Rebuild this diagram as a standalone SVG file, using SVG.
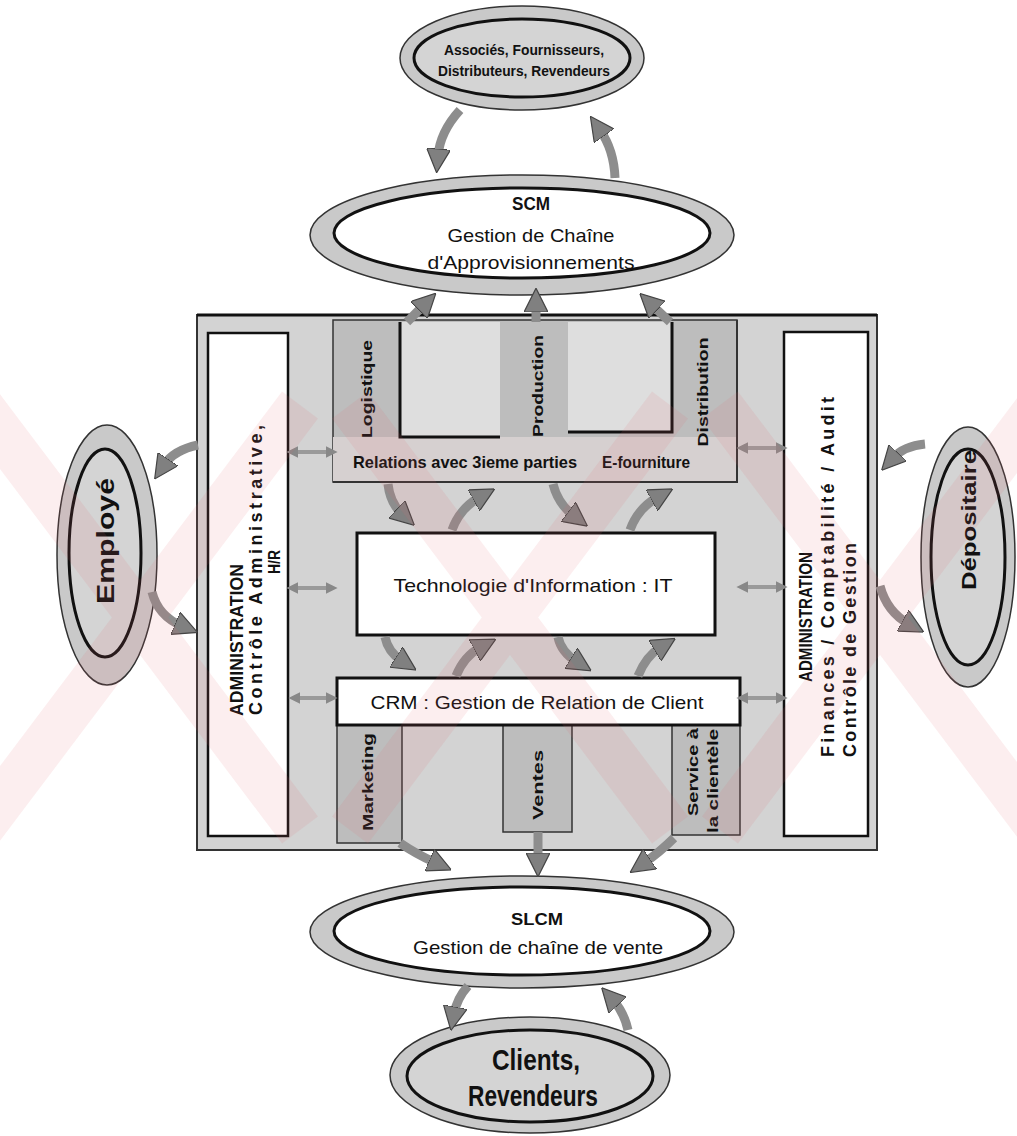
<svg xmlns="http://www.w3.org/2000/svg" width="1017" height="1136" viewBox="0 0 1017 1136">
  <defs>
    <style>
      text { font-family: "Liberation Sans", Arial, sans-serif; fill: #111; }
      .ring { fill: #c9c9c9; stroke: #333; stroke-width: 1.5; }
      .core { fill: #d4d4d4; stroke: #111; stroke-width: 3; }
      .coreW { fill: #ffffff; stroke: #111; stroke-width: 3; }
      .frame { fill: #d3d3d3; stroke: #333; stroke-width: 2; }
      .panel { fill: #ffffff; stroke: #111; stroke-width: 2.5; }
      .col { fill: #bdbdbd; stroke: #333; stroke-width: 1.5; }
      .light { fill: #dedede; }
      .box { fill: #ffffff; stroke: #111; stroke-width: 3; }
      .edge { stroke: #111; stroke-width: 3; fill: none; }
      .shaft { fill: none; stroke: #8d8d8d; stroke-width: 9; stroke-linecap: butt; marker-end: url(#head); }
      .dbl { fill: none; stroke: #9a9a9a; stroke-width: 4; marker-start: url(#tipS); marker-end: url(#tipE); }
      .b { font-weight: bold; }
      .wm { stroke: #e0606e; stroke-width: 45; opacity: 0.11; fill: none; }
    </style>
    <marker id="head" viewBox="0 0 10 10" refX="3" refY="5" markerUnits="userSpaceOnUse" markerWidth="24" markerHeight="24" orient="auto">
      <path d="M0,0 L10,5 L0,10 z" fill="#808080" stroke="#444" stroke-width="0.5"/>
    </marker>
    <marker id="tipE" viewBox="0 0 10 10" refX="2" refY="5" markerUnits="userSpaceOnUse" markerWidth="12" markerHeight="12" orient="auto">
      <path d="M0,0 L10,5 L0,10 z" fill="#888"/>
    </marker>
    <marker id="tipS" viewBox="0 0 10 10" refX="8" refY="5" markerUnits="userSpaceOnUse" markerWidth="12" markerHeight="12" orient="auto">
      <path d="M10,0 L0,5 L10,10 z" fill="#888"/>
    </marker>
  </defs>

  <rect width="1017" height="1136" fill="#ffffff"/>

  <!-- central enterprise block -->
  <g id="frame">
    <rect class="frame" x="197" y="315" width="680" height="535"/>
    <line x1="197" y1="315" x2="877" y2="315" stroke="#111" stroke-width="3"/>
  </g>

  <g id="admin-left">
    <rect class="panel" x="208" y="333" width="80" height="503"/>
    <text transform="translate(237,640) rotate(-90)" text-anchor="middle" dy="0.35em" class="b" font-size="18" textLength="152" lengthAdjust="spacingAndGlyphs">ADMINISTRATION</text>
    <text transform="translate(256,570) rotate(-90)" text-anchor="middle" dy="0.35em" class="b" font-size="18" textLength="290" lengthAdjust="spacing">Contrôle Administrative,</text>
    <text transform="translate(274,562) rotate(-90)" text-anchor="middle" dy="0.35em" class="b" font-size="16" textLength="24" lengthAdjust="spacingAndGlyphs">H/R</text>
  </g>

  <g id="admin-right">
    <rect class="panel" x="784" y="332" width="84" height="504"/>
    <text transform="translate(806,617) rotate(-90)" text-anchor="middle" dy="0.35em" class="b" font-size="18" textLength="130" lengthAdjust="spacingAndGlyphs">ADMINISTRATION</text>
    <text transform="translate(828,577) rotate(-90)" text-anchor="middle" dy="0.35em" class="b" font-size="18" textLength="360" lengthAdjust="spacing">Finances / Comptabilité / Audit</text>
    <text transform="translate(850,650) rotate(-90)" text-anchor="middle" dy="0.35em" class="b" font-size="18" textLength="214" lengthAdjust="spacing">Contrôle de Gestion</text>
  </g>

  <g id="scm-block">
    <rect class="col" x="333" y="320" width="404" height="162"/>
    <rect class="light" x="400" y="322" width="100" height="115"/>
    <rect class="light" x="568" y="322" width="104" height="110"/>
    <rect x="333" y="437" width="404" height="45" fill="#d6d0d0"/>
    <path class="edge" d="M400,322 V437 H500"/>
    <path class="edge" d="M568,432 H672 V322"/>
    <path d="M737,320 V482 H333" fill="none" stroke="#333" stroke-width="2"/>
    <text transform="translate(367,389) rotate(-90)" text-anchor="middle" dy="0.35em" class="b" font-size="15" textLength="98" lengthAdjust="spacingAndGlyphs">Logistique</text>
    <text transform="translate(538,386) rotate(-90)" text-anchor="middle" dy="0.35em" class="b" font-size="15" textLength="102" lengthAdjust="spacingAndGlyphs">Production</text>
    <text transform="translate(703,392) rotate(-90)" text-anchor="middle" dy="0.35em" class="b" font-size="15" textLength="109" lengthAdjust="spacingAndGlyphs">Distribution</text>
    <text x="353" y="468" class="b" font-size="17" textLength="224" lengthAdjust="spacingAndGlyphs">Relations avec 3ieme parties</text>
    <text x="602" y="468" class="b" font-size="17" textLength="88" lengthAdjust="spacingAndGlyphs">E-fourniture</text>
  </g>

  <g id="it">
    <rect class="box" x="357" y="533" width="358" height="102"/>
    <text x="533" y="592" text-anchor="middle" font-size="19" textLength="279" lengthAdjust="spacingAndGlyphs">Technologie d'Information : IT</text>
  </g>

  <g id="crm">
    <rect class="col" x="337" y="725" width="65" height="118"/>
    <rect class="col" x="503" y="725" width="69" height="107"/>
    <rect class="col" x="672" y="725" width="68" height="110"/>
    <rect class="box" x="337" y="678" width="403" height="47"/>
    <text x="537" y="709" text-anchor="middle" font-size="19" textLength="333" lengthAdjust="spacingAndGlyphs">CRM : Gestion de Relation de Client</text>
    <text transform="translate(368,782) rotate(-90)" text-anchor="middle" dy="0.35em" class="b" font-size="14" textLength="98" lengthAdjust="spacingAndGlyphs">Marketing</text>
    <text transform="translate(538,785) rotate(-90)" text-anchor="middle" dy="0.35em" class="b" font-size="14" textLength="70" lengthAdjust="spacingAndGlyphs">Ventes</text>
    <text transform="translate(693,772) rotate(-90)" text-anchor="middle" dy="0.35em" class="b" font-size="14" textLength="88" lengthAdjust="spacingAndGlyphs">Service à</text>
    <text transform="translate(713,781) rotate(-90)" text-anchor="middle" dy="0.35em" class="b" font-size="14" textLength="104" lengthAdjust="spacingAndGlyphs">la clientèle</text>
  </g>

  <!-- external partners and channels -->
  <g id="partners">
    <ellipse class="ring" cx="522" cy="58" rx="122" ry="52"/>
    <ellipse class="core" cx="522" cy="58" rx="108" ry="39"/>
    <text x="524" y="55" text-anchor="middle" class="b" font-size="14" textLength="160" lengthAdjust="spacingAndGlyphs">Associés, Fournisseurs,</text>
    <text x="524" y="76" text-anchor="middle" class="b" font-size="14" textLength="172" lengthAdjust="spacingAndGlyphs">Distributeurs, Revendeurs</text>
  </g>

  <g id="scm">
    <ellipse class="ring" cx="522" cy="235" rx="212" ry="60"/>
    <ellipse class="coreW" cx="522" cy="233" rx="188" ry="45"/>
    <text x="531" y="210" text-anchor="middle" class="b" font-size="18" textLength="38" lengthAdjust="spacingAndGlyphs">SCM</text>
    <text x="531" y="242" text-anchor="middle" font-size="19" textLength="167" lengthAdjust="spacingAndGlyphs">Gestion de Chaîne</text>
    <text x="531" y="269" text-anchor="middle" font-size="19" textLength="207" lengthAdjust="spacingAndGlyphs">d'Approvisionnements</text>
  </g>

  <g id="employe">
    <ellipse class="ring" cx="107" cy="555" rx="50" ry="130"/>
    <ellipse class="core" cx="105" cy="553" rx="36" ry="104"/>
    <text transform="translate(106,541) rotate(-90)" text-anchor="middle" dy="0.35em" class="b" font-size="24" textLength="126" lengthAdjust="spacingAndGlyphs">Employé</text>
  </g>

  <g id="depositaire">
    <ellipse class="ring" cx="968" cy="557" rx="47" ry="130"/>
    <ellipse class="core" cx="968" cy="557" rx="37" ry="108"/>
    <text transform="translate(969,520) rotate(-90)" text-anchor="middle" dy="0.35em" class="b" font-size="21" textLength="140" lengthAdjust="spacingAndGlyphs">Dépositaire</text>
  </g>

  <g id="slcm">
    <ellipse class="ring" cx="522" cy="932" rx="212" ry="56"/>
    <ellipse class="coreW" cx="522" cy="931" rx="188" ry="44"/>
    <text x="537" y="925" text-anchor="middle" class="b" font-size="17" textLength="52" lengthAdjust="spacingAndGlyphs">SLCM</text>
    <text x="538" y="954" text-anchor="middle" font-size="19" textLength="250" lengthAdjust="spacingAndGlyphs">Gestion de chaîne de vente</text>
  </g>

  <g id="clients">
    <ellipse class="ring" cx="530" cy="1075" rx="140" ry="58"/>
    <ellipse class="core" cx="530" cy="1076" rx="123" ry="46"/>
    <text x="536" y="1070" text-anchor="middle" class="b" font-size="30" textLength="88" lengthAdjust="spacingAndGlyphs">Clients,</text>
    <text x="533" y="1106" text-anchor="middle" class="b" font-size="30" textLength="130" lengthAdjust="spacingAndGlyphs">Revendeurs</text>
  </g>

  <!-- flows between blocks -->
  <g id="connectors">
    <path class="shaft" d="M460,110 Q440,132 438,156"/>
    <path class="shaft" d="M615,178 Q614,150 600,130"/>
    <path class="shaft" d="M407,322 L424,305"/>
    <path class="shaft" d="M536,322 L536,305"/>
    <path class="shaft" d="M670,322 L652,305"/>
    <path class="shaft" d="M388,484 Q390,503 402,514"/>
    <path class="shaft" d="M452,530 Q460,508 480,497"/>
    <path class="shaft" d="M553,484 Q558,504 574,516"/>
    <path class="shaft" d="M630,530 Q638,508 658,497"/>
    <path class="shaft" d="M385,637 Q388,652 402,661"/>
    <path class="shaft" d="M456,676 Q464,656 481,647"/>
    <path class="shaft" d="M558,637 Q561,652 577,662"/>
    <path class="shaft" d="M638,676 Q646,656 661,647"/>
    <path class="shaft" d="M400,843 Q416,854 436,863"/>
    <path class="shaft" d="M538,832 L538,860"/>
    <path class="shaft" d="M674,838 Q660,852 644,863"/>
    <path class="shaft" d="M468,986 Q457,998 454,1014"/>
    <path class="shaft" d="M628,1030 Q624,1012 613,1000"/>
    <path class="shaft" d="M198,445 Q174,450 164,465"/>
    <path class="shaft" d="M152,592 Q158,616 182,626"/>
    <path class="shaft" d="M925,444 Q904,446 893,458"/>
    <path class="shaft" d="M880,586 Q887,612 909,624"/>
    <path class="dbl" d="M296,452 H328"/>
    <path class="dbl" d="M296,588 H328"/>
    <path class="dbl" d="M298,698 H328"/>
    <path class="dbl" d="M746,448 H778"/>
    <path class="dbl" d="M746,587 H778"/>
    <path class="dbl" d="M746,698 H778"/>
  </g>

  <!-- faint diagonal watermark bands -->
  <g id="watermark">
    <path class="wm" d="M-20,405 L300,830 M300,405 L-20,830"/>
    <path class="wm" d="M350,405 L670,830 M670,405 L350,830"/>
    <path class="wm" d="M720,405 L1040,830 M1040,405 L720,830"/>
  </g>
</svg>
